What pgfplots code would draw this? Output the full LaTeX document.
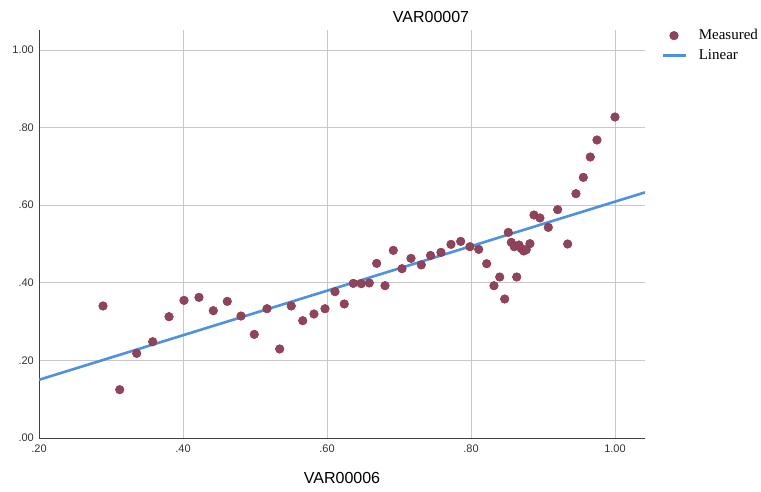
\documentclass[border=0pt]{standalone}
\usepackage{pgfplots}
\pgfplotsset{compat=1.18}
\usepackage{fontspec}
\setmainfont{Liberation Sans}
\newfontfamily\legfont{Liberation Serif}

\definecolor{dotfill}{RGB}{139,70,92}
\definecolor{dotedge}{RGB}{150,52,74}
\definecolor{fitblue}{RGB}{78,145,222}
\definecolor{gridgray}{RGB}{200,200,200}

\pgfplotsset{
  legdot/.style={legend image code/.code={\draw[##1] plot coordinates {(11.5pt,0pt)};}},
  legline/.style={legend image code/.code={\draw[##1] (0pt,0pt) -- (23pt,0pt);}},
}

\begin{document}
\begin{tikzpicture}[x=1pt,y=1pt]
  \useasboundingbox (0,0) rectangle (761,492);
  \begin{axis}[
    scale only axis,
    width=606pt, height=408pt,
    at={(39pt,54pt)}, anchor=south west,
    xmin=0.2, xmax=1.0417,
    ymin=0, ymax=1.0515,
    axis x line=bottom, axis y line=left,
    axis line style={-, draw=black!75, line width=0.8pt},
    xtick={0.2,0.4,0.6,0.8,1.0},
    xticklabels={.20,.40,.60,.80,1.00},
    ytick={0,0.2,0.4,0.6,0.8,1.0},
    yticklabels={.00,.20,.40,.60,.80,1.00},
    major tick length=0pt,
    grid=major,
    major grid style={gridgray, line width=0.9pt},
    tick label style={font=\fontsize{11}{11}\selectfont, text=black!80},
    xticklabel style={anchor=north, inner sep=0pt, yshift=-7pt},
    yticklabel style={anchor=east, inner sep=0pt, xshift=-5pt},
    legend style={
      at={(axis description cs:1.0264,1.005)}, anchor=north west,
      draw=none, fill=none, inner sep=0pt,
      font=\legfont\fontsize{15}{15}\selectfont,
      nodes={inner sep=0pt, text height=11pt, text depth=4pt},
      row sep=5pt, column sep=12pt,
    },
    legend cell align=left,
  ]
    % measured points
    \addplot[only marks, mark=*, mark size=4.3pt,
      mark options={fill=dotfill, draw=dotedge, line width=0.5pt}, legdot]
    table {
      x y
      0.2889 0.3402
      0.3121 0.1245
      0.3357 0.2180
      0.3579 0.2482
      0.3806 0.3126
      0.4014 0.3546
      0.4222 0.3624
      0.4421 0.3281
      0.4615 0.3521
      0.4806 0.3144
      0.4990 0.2670
      0.5167 0.3332
      0.5343 0.2294
      0.5504 0.3402
      0.5663 0.3023
      0.5819 0.3196
      0.5972 0.3332
      0.6111 0.3771
      0.6240 0.3454
      0.6365 0.3985
      0.6476 0.3977
      0.6588 0.3995
      0.6690 0.4500
      0.6806 0.3925
      0.6921 0.4835
      0.7042 0.4363
      0.7167 0.4629
      0.7310 0.4461
      0.7438 0.4704
      0.7583 0.4784
      0.7722 0.4990
      0.7857 0.5067
      0.7986 0.4930
      0.8107 0.4861
      0.8218 0.4492
      0.8319 0.3925
      0.8399 0.4149
      0.8468 0.3582
      0.8518 0.5299
      0.8560 0.5041
      0.8601 0.4930
      0.8635 0.4149
      0.8667 0.4974
      0.8699 0.4879
      0.8732 0.4820
      0.8768 0.4853
      0.8819 0.5008
      0.8875 0.5747
      0.8958 0.5670
      0.9074 0.5428
      0.9204 0.5884
      0.9343 0.5000
      0.9458 0.6296
      0.9560 0.6716
      0.9657 0.7242
      0.9750 0.7680
      1.0000 0.8273
    };
    \addlegendentry{Measured}
    % fitted line
    \addplot[draw=fitblue, line width=2.6pt, legline]
      coordinates {(0.2,0.150) (1.0417,0.633)};
    \addlegendentry{Linear}
  \end{axis}
  \node[font=\fontsize{16}{16}\selectfont] at (431,475) {VAR00007};
  \node[font=\fontsize{16}{16}\selectfont] at (342,14) {VAR00006};
\end{tikzpicture}
\end{document}
